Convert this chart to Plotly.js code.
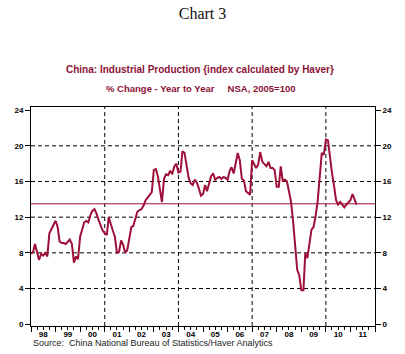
<!DOCTYPE html>
<html><head><meta charset="utf-8">
<script src="https://cdn.plot.ly/plotly-3.0.1.min.js"></script>
<style>html,body{margin:0;padding:0;background:#fff;}#chart{width:405px;height:354px;}</style>
</head><body><div id="chart"></div>
<script>
// China industrial production, % change year to year (monthly)
const ip1998 = [7.9, 8.1, 9.0, 8.2, 7.2, 7.9, 7.7, 8.0, 7.6, 10.2, 10.7, 11.1];
const ip1999 = [11.6, 10.9, 9.3, 9.1, 9.1, 9.0, 9.2, 9.5, 9.0, 6.9, 7.6, 7.3];
const ip2000 = [9.8, 10.5, 11.4, 11.6, 11.4, 12.2, 12.7, 12.9, 12.4, 11.7, 11.0, 10.5];
const ip2001 = [10.2, 10.0, 12.0, 11.1, 10.5, 9.8, 8.0, 8.1, 9.4, 8.9, 8.0, 8.3];
const ip2002 = [9.8, 10.9, 11.0, 11.9, 12.6, 12.8, 12.9, 13.3, 13.9, 14.2, 14.5, 14.8];
const ip2003 = [17.3, 17.4, 16.6, 15.0, 13.7, 16.3, 16.8, 16.7, 17.2, 16.8, 17.7, 18.0];
const ip2004 = [17.0, 17.1, 19.4, 19.2, 17.7, 16.4, 15.8, 15.6, 16.2, 15.9, 15.2, 14.4];
const ip2005 = [14.6, 15.6, 14.9, 15.8, 16.6, 16.9, 16.2, 16.4, 16.5, 16.3, 16.5, 16.4];
const ip2006 = [16.2, 17.2, 17.6, 16.9, 18.0, 19.2, 18.4, 16.3, 16.1, 14.9, 14.7, 14.5];
const ip2007 = [18.4, 18.0, 17.5, 17.9, 19.3, 18.2, 17.9, 17.7, 18.2, 17.5, 17.5, 17.3];
const ip2008 = [15.4, 15.4, 17.7, 16.0, 16.2, 16.0, 14.9, 13.7, 11.5, 8.3, 6.1, 5.5];
const ip2009 = [3.8, 3.8, 8.0, 7.4, 8.9, 10.6, 10.9, 12.1, 13.8, 16.5, 19.2, 19.0];
const ip2010 = [20.7, 20.6, 18.7, 17.0, 15.6, 13.9, 13.4, 13.7, 13.4, 13.1, 13.4, 13.7];
const ip2011 = [13.9, 14.6, 14.1, 13.4];
const averageLevel = 13.5;

const years = [1998, 1999, 2000, 2001, 2002, 2003, 2004, 2005, 2006, 2007, 2008, 2009, 2010, 2011];
const yearly = [ip1998, ip1999, ip2000, ip2001, ip2002, ip2003, ip2004, ip2005, ip2006, ip2007, ip2008, ip2009, ip2010, ip2011];
const yTicks = [0, 4, 8, 12, 16, 20, 24];
const gridLevels = [4, 8, 12, 16, 20];
const gridDates = ['2001-01-01', '2004-01-01', '2007-01-01', '2010-01-01'];
const axisStart = '1998-01-01', axisEnd = '2012-01-01';

const dates = [], values = [];
years.forEach((yr, k) => yearly[k].forEach((v, i) => {
  dates.push(yr + '-' + String(i + 1).padStart(2, '0') + '-01');
  values.push(v);
}));

const RED = '#9e1039';
const TXT = '#8c1236';
const tickFont = {family: 'Liberation Sans, Arial, sans-serif', size: 8, color: '#000', weight: 'bold'};

const traces = [
  {x: dates, y: values, type: 'scatter', mode: 'lines', line: {color: RED, width: 2}, hoverinfo: 'skip'},
  {x: [axisStart, axisEnd], y: [averageLevel, averageLevel], yaxis: 'y2', type: 'scatter', mode: 'lines',
   line: {color: RED, width: 1}, hoverinfo: 'skip'}
];

const shapes = [];
gridLevels.forEach(v => shapes.push({type: 'line', xref: 'paper', x0: 0, x1: 1, yref: 'y', y0: v, y1: v,
  line: {color: '#000', width: 1, dash: '4px,3px'}, layer: 'below'}));
gridDates.forEach(d => shapes.push({type: 'line', xref: 'x', x0: d, x1: d, yref: 'paper', y0: 0, y1: 1,
  line: {color: '#000', width: 1, dash: '4px,3px'}, layer: 'below'}));

const yCommon = {range: [-0.2, 24.35], tickvals: yTicks, ticks: 'outside', ticklen: 5, tickcolor: '#000',
  showline: true, linecolor: '#000', linewidth: 1, showgrid: false, zeroline: false, tickfont: tickFont, fixedrange: true};

const layout = {
  width: 405, height: 354,
  margin: {l: 31, r: 30, t: 107, b: 28},
  paper_bgcolor: '#fff', plot_bgcolor: '#fff',
  showlegend: false,
  title: {text: 'Chart 3', font: {family: 'Liberation Serif, Times New Roman, serif', size: 16, color: '#111'},
    x: 0.5, xref: 'container', xanchor: 'center', y: 0.963, yref: 'container', yanchor: 'middle'},
  xaxis: {type: 'date', range: [axisStart, axisEnd], showgrid: false, zeroline: false,
    showline: true, linecolor: '#000', linewidth: 1, mirror: true,
    ticks: 'outside', ticklen: 5, tickcolor: '#000', tick0: axisStart, dtick: 'M12', tickformat: '%y',
    ticklabelmode: 'period', ticklabelstandoff: -5, tickfont: tickFont, fixedrange: true,
    minor: {dtick: 'M3', tick0: axisStart, ticks: 'outside', ticklen: 3, tickcolor: '#000', showgrid: false}},
  yaxis: Object.assign({side: 'left'}, yCommon),
  yaxis2: Object.assign({side: 'right', overlaying: 'y'}, yCommon),
  shapes: shapes,
  annotations: [
    {text: 'China: Industrial Production {index calculated by Haver}', xref: 'paper', yref: 'paper',
     x: 0.491, y: 1.169, xanchor: 'center', yanchor: 'middle', showarrow: false,
     font: {family: 'Liberation Sans, Arial, sans-serif', size: 10, color: TXT, weight: 'bold'}},
    {text: '% Change - Year to Year\u00a0\u00a0\u00a0\u00a0\u00a0NSA, 2005=100', xref: 'paper', yref: 'paper',
     x: 0.494, y: 1.084, xanchor: 'center', yanchor: 'middle', showarrow: false,
     font: {family: 'Liberation Sans, Arial, sans-serif', size: 9.5, color: TXT, weight: 'bold'}},
    {text: 'Source:  China National Bureau of Statistics/Haver Analytics', xref: 'paper', yref: 'paper',
     x: 0, y: -0.0776, xanchor: 'left', yanchor: 'middle', showarrow: false,
     font: {family: 'Liberation Sans, Arial, sans-serif', size: 9, color: '#222'}}
  ]
};

Plotly.newPlot('chart', traces, layout, {displayModeBar: false, staticPlot: true});
</script>
</body></html>
